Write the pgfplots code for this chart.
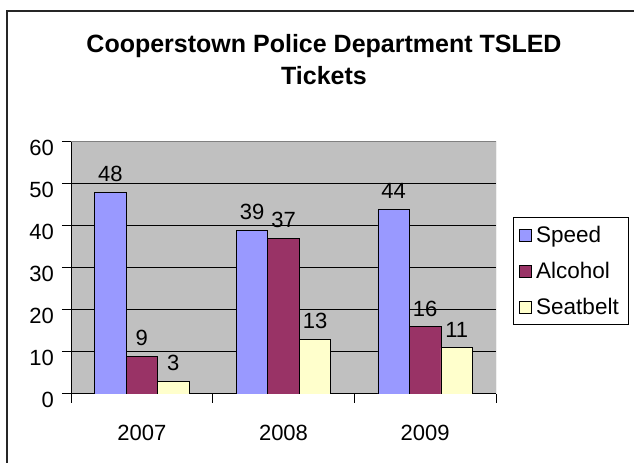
\documentclass[border=0pt]{standalone}
\usepackage{pgfplots}
\pgfplotsset{compat=1.18}
\usepackage{fontspec}
\setmainfont{Liberation Sans}
\definecolor{speed}{HTML}{9999FF}
\definecolor{alcohol}{HTML}{993366}
\definecolor{seatbelt}{HTML}{FFFFCC}
\definecolor{plotbg}{HTML}{C0C0C0}
\newcommand{\lblfont}{\fontsize{22bp}{26bp}\selectfont}
\pgfplotsset{sq legend/.style={legend image code/.code={\draw[##1, line width=0.8bp, draw=black] (0bp,-6bp) rectangle (12bp,6bp);}}}
\begin{document}
\begin{tikzpicture}[x=1bp,y=1bp]
\useasboundingbox (0,0) rectangle (634,463);
\draw[line width=1.5bp, black!85] (7,-20) -- (7,452) -- (660,452);
\node[font=\bfseries\fontsize{25bp}{30bp}\selectfont, anchor=base] at (324,410) {Cooperstown Police Department TSLED};
\node[font=\bfseries\fontsize{25bp}{30bp}\selectfont, anchor=base] at (324,378) {Tickets};
\begin{axis}[
  at={(71bp,69bp)}, anchor=south west,
  scale only axis, width=425bp, height=252bp,
  xmin=0, xmax=3, ymin=0, ymax=60,
  axis background/.style={fill=plotbg},
  axis x line*=bottom, axis y line*=left,
  axis line style={-, black, line width=1bp},
  ytick={0,10,...,60},
  xtick={0,1,2,3}, xticklabels={},
  extra x ticks={0.5,1.5,2.5},
  extra x tick labels={2007,2008,2009},
  extra x tick style={major tick length=0pt, grid=none,
     xticklabel style={anchor=north, inner sep=0pt, yshift=-31bp}},
  ymajorgrids,
  major grid style={black, line width=1bp},
  tick align=outside, major tick length=9bp,
  tick style={black, line width=1bp},
  tick label style={font=\lblfont},
  yticklabel style={anchor=east, inner sep=0pt, xshift=-8bp, yshift=-5.5bp},
  /pgf/number format/assume math mode=true,
  ybar=0pt, bar width=31.5bp,
  nodes near coords,
  every node near coord/.append style={font=\lblfont, anchor=south, inner sep=0pt, yshift=10bp, black},
  legend style={at={(1.04,0.702)}, anchor=north west, draw=black, line width=0.8bp,
     font=\fontsize{22.5bp}{26bp}\selectfont, inner xsep=6bp, inner ysep=6bp, row sep=12bp,
     nodes={inner xsep=4bp, inner ysep=3bp}},
  legend cell align=left,
]
\addplot[fill=speed, draw=black, line width=0.8bp, sq legend] coordinates {(0.5,48) (1.5,39) (2.5,44)};
\addplot[fill=alcohol, draw=black, line width=0.8bp, sq legend] coordinates {(0.5,9) (1.5,37) (2.5,16)};
\addplot[fill=seatbelt, draw=black, line width=0.8bp, sq legend] coordinates {(0.5,3) (1.5,13) (2.5,11)};
\legend{Speed,Alcohol,Seatbelt}
\draw[black!50, line width=1bp] (rel axis cs:0,1) -- (rel axis cs:1,1) -- (rel axis cs:1,0);
\end{axis}
\end{tikzpicture}
\end{document}
